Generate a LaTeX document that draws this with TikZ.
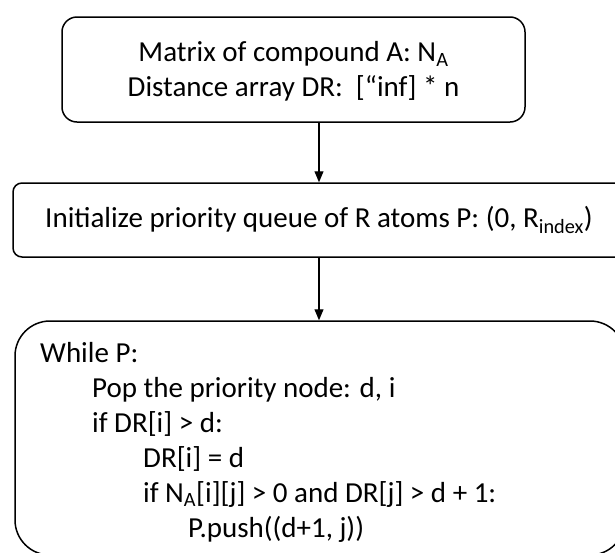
\documentclass[tikz,border=0pt]{standalone}
\usepackage{fontspec}
\setmainfont{Carlito}
\usetikzlibrary{arrows.meta}
\tikzset{
  box/.style={draw=black, line width=1.5pt, fill=white, inner sep=0pt, align=center,
    font=\fontsize{29}{35}\selectfont},
  txt/.style={anchor=base west, inner sep=0pt, font=\fontsize{29}{35}\selectfont},
  flow/.style={draw=black, line width=1.1pt, -{Triangle[width=9pt,length=11pt]}}
}
\begin{document}
\begin{tikzpicture}[x=1pt,y=-1pt]
\useasboundingbox (0,0) rectangle (615,552);
\node[box, rounded corners=15pt, minimum width=463pt, minimum height=105pt] (init) at (293.5,69.5)
  {\rule{0pt}{24pt}Matrix of compound A: N\textsubscript{A}\\Distance array DR:~~[“inf] * n};
\node[box, rounded corners=9pt, minimum width=612pt, minimum height=74pt] (queue) at (319,220)
  {Initialize priority queue of R atoms P: (0, R\textsubscript{index})};
\node[box, rounded corners=35pt, minimum width=610pt, minimum height=234pt] (loop) at (320,438) {};
\coordinate (a1) at (319,122);
\coordinate (a2) at (319,321);
\draw[flow] (a1) -- (a1 |- queue.north);
\draw[flow] (queue.south -| a2) -- (loop.north -| a2);
\node[txt] (l1) at (40,362) {While P:};
\node[txt] (l2) at (92,397) {Pop the priority node: d, i};
\node[txt] (l3) at (92,432) {if DR[i] > d:};
\node[txt] (l4) at (143,467) {DR[i] = d};
\node[txt] (l5) at (143,502) {if N\textsubscript{A}[i][j] > 0 and DR[j] > d + 1:};
\node[txt] (l6) at (188,537) {P.push((d+1, j))};
\end{tikzpicture}
\end{document}
